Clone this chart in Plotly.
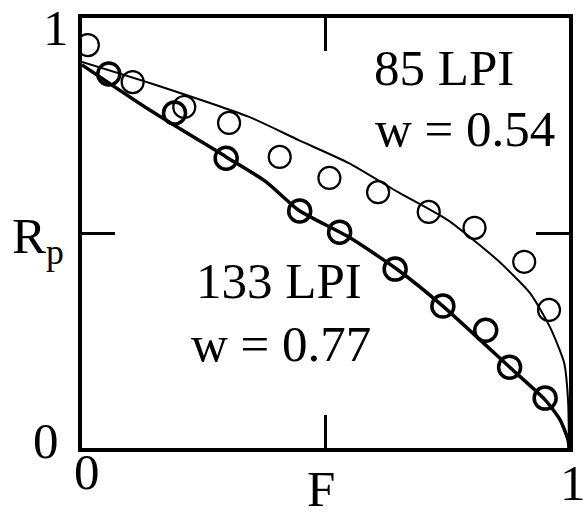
import plotly.graph_objects as go

# Measured points (F, Rp)
f_85 = [0.012, 0.104, 0.210, 0.302, 0.406, 0.508, 0.608, 0.712, 0.806, 0.908, 0.959]
rp_85 = [0.937, 0.851, 0.793, 0.756, 0.677, 0.628, 0.595, 0.549, 0.512, 0.433, 0.321]

f_133 = [0.055, 0.190, 0.296, 0.447, 0.529, 0.643, 0.741, 0.829, 0.878, 0.951]
rp_133 = [0.870, 0.779, 0.674, 0.551, 0.502, 0.416, 0.330, 0.274, 0.188, 0.116]

# Model curves
fit_f_85 = [0.0, 0.139, 0.343, 0.445, 0.547, 0.649, 0.751, 0.853, 0.920, 0.961, 0.990, 0.998, 1.0]
fit_rp_85 = [0.898, 0.849, 0.770, 0.716, 0.663, 0.595, 0.530, 0.437, 0.360, 0.281, 0.198, 0.112, 0.0]

fit_f_133 = [0.0, 0.139, 0.296, 0.378, 0.445, 0.547, 0.649, 0.741, 0.880, 0.951, 0.982, 0.998, 1.0]
fit_rp_133 = [0.891, 0.786, 0.677, 0.619, 0.553, 0.491, 0.414, 0.330, 0.186, 0.112, 0.065, 0.019, 0.0]

labels_85 = ["85 LPI", "w = 0.54"]
labels_133 = ["133 LPI", "w = 0.77"]

FONT = "Liberation Serif, Times New Roman, serif"

fig = go.Figure()
fig.add_trace(go.Scatter(x=fit_f_85, y=fit_rp_85, mode="lines",
                         line=dict(color="black", width=2, shape="spline", smoothing=0.6),
                         showlegend=False))
fig.add_trace(go.Scatter(x=fit_f_133, y=fit_rp_133, mode="lines",
                         line=dict(color="black", width=3.5, shape="spline", smoothing=0.6),
                         showlegend=False))
fig.add_trace(go.Scatter(x=f_85, y=rp_85, mode="markers",
                         marker=dict(symbol="circle-open", size=22, color="black",
                                     line=dict(width=2.2)), showlegend=False))
fig.add_trace(go.Scatter(x=f_133, y=rp_133, mode="markers",
                         marker=dict(symbol="circle-open", size=22, color="black",
                                     line=dict(width=3.5)), showlegend=False))

W, H = 585, 519
L, R, T, B = 82, 572, 18, 448


def px(xp):
    return (xp - L) / (R - L)


def py(yp):
    return (B - yp) / (B - T)


def ann(text, x, y, size=51):
    return dict(text=text, x=px(x), y=py(y), xref="paper", yref="paper",
                showarrow=False, xanchor="center", yanchor="middle",
                font=dict(family=FONT, size=size, color="black"))


annotations = [
    ann(labels_85[0], 446, 68),
    ann(labels_85[1], 467, 129),
    ann(labels_133[0], 280, 281),
    ann(labels_133[1], 282, 344),
    ann("1", 56, 28),
    ann("0", 46, 441),
    ann("0", 87, 472),
    ann("1", 576, 483),
    ann("R<sub>p</sub>", 38, 240),
    ann("F", 322, 489),
]

fig.update_layout(
    width=W, height=H,
    margin=dict(l=L, r=W - R, t=T, b=H - B, pad=0),
    paper_bgcolor="white", plot_bgcolor="white",
    annotations=annotations,
    xaxis=dict(range=[0, 1], tickvals=[0.5], ticks="inside", ticklen=33, tickwidth=2.5,
               tickcolor="black", showticklabels=False, showgrid=False, zeroline=False,
               showline=True, linecolor="black", linewidth=3.5, mirror="ticks"),
    yaxis=dict(range=[0, 1], tickvals=[0.5], ticks="inside", ticklen=33, tickwidth=2.5,
               tickcolor="black", showticklabels=False, showgrid=False, zeroline=False,
               showline=True, linecolor="black", linewidth=3.5, mirror="ticks"),
)

fig.write_html("out.html", config={"displayModeBar": False},
               post_script="document.body.style.margin='0';")
